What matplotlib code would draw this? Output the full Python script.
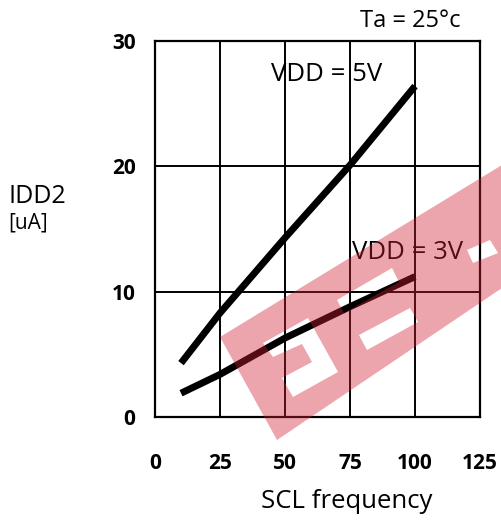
import matplotlib
matplotlib.use('Agg')
import matplotlib.pyplot as plt
from matplotlib.path import Path
from matplotlib.patches import PathPatch

# SCL frequency vs supply current
freq = [10, 25, 50, 75, 100]
idd_5v = [4.3, 8.3, 14.3, 20.1, 26.4]
idd_3v = [1.9, 3.4, 6.3, 8.8, 11.2]

x_ticks = [0, 25, 50, 75, 100, 125]
y_ticks = [0, 10, 20, 30]

plt.rcParams['font.family'] = ['Open Sans', 'DejaVu Sans']

fig = plt.figure(figsize=(5.02, 5.21), dpi=100)
ax = fig.add_axes([0.3088, 0.1996, 0.6474, 0.7217])

ax.plot(freq, idd_5v, color='black', lw=5, solid_capstyle='butt')
ax.plot(freq, idd_3v, color='black', lw=5, solid_capstyle='butt')

ax.set_xlim(0, 125)
ax.set_ylim(0, 30)
ax.set_xticks(x_ticks)
ax.set_yticks(y_ticks)
ax.grid(True, color='black', lw=1.4)
for s in ax.spines.values():
    s.set_linewidth(1.6)
ax.tick_params(length=0, labelsize=15)
ax.tick_params(axis='x', pad=26)
ax.tick_params(axis='y', pad=14)
for lab in ax.get_xticklabels() + ax.get_yticklabels():
    lab.set_fontweight('bold')

ax.set_xlabel('SCL frequency', fontsize=18.5, va='center')
ax.xaxis.set_label_coords(0.59, -0.225)

fig.text(0.016, 0.622, 'IDD2', fontsize=18, ha='left', va='center')
fig.text(0.016, 0.572, '[uA]', fontsize=15, ha='left', va='center')

ax.text(98, 31.6, 'Ta = 25°c', fontsize=17, ha='center', va='center', clip_on=False)
ax.text(66.0, 27.3, 'VDD = 5V', fontsize=18.5, ha='center', va='center')
ax.text(97.0, 13.1, 'VDD = 3V', fontsize=18.5, ha='center', va='center')

# watermark: pink band with white cut-outs (pixel coords)
W, H = 502.0, 521.0
band = [(220, 337), (277, 440), (502, 288), (502, 165)]
holes = [
    [(263, 343), (308, 318), (338, 372), (293, 397), (282, 378), (312, 362), (302, 344), (273, 357)],
    [(337, 300), (392, 268), (399, 282), (344, 313)],
    [(359, 335), (410, 308), (418, 322), (367, 350)],
    [(467, 250), (490, 240), (498, 253), (473, 263)],
]


def area(pts):
    s = 0
    for i in range(len(pts)):
        x1, y1 = pts[i]
        x2, y2 = pts[(i + 1) % len(pts)]
        s += x1 * y2 - x2 * y1
    return s


verts, codes = [], []
outer_sign = area(band) > 0
for k, poly in enumerate([band] + holes):
    if k > 0 and (area(poly) > 0) == outer_sign:
        poly = poly[::-1]
    pts = [(x / W, 1 - y / H) for x, y in poly]
    verts += pts + [pts[0]]
    codes += [Path.MOVETO] + [Path.LINETO] * (len(pts) - 1) + [Path.CLOSEPOLY]

fig.patches.append(PathPatch(Path(verts, codes), transform=fig.transFigure,
                             facecolor=(0.82, 0.12, 0.2), alpha=0.4,
                             edgecolor='none', zorder=10))

plt.savefig('out.png', dpi=100)
